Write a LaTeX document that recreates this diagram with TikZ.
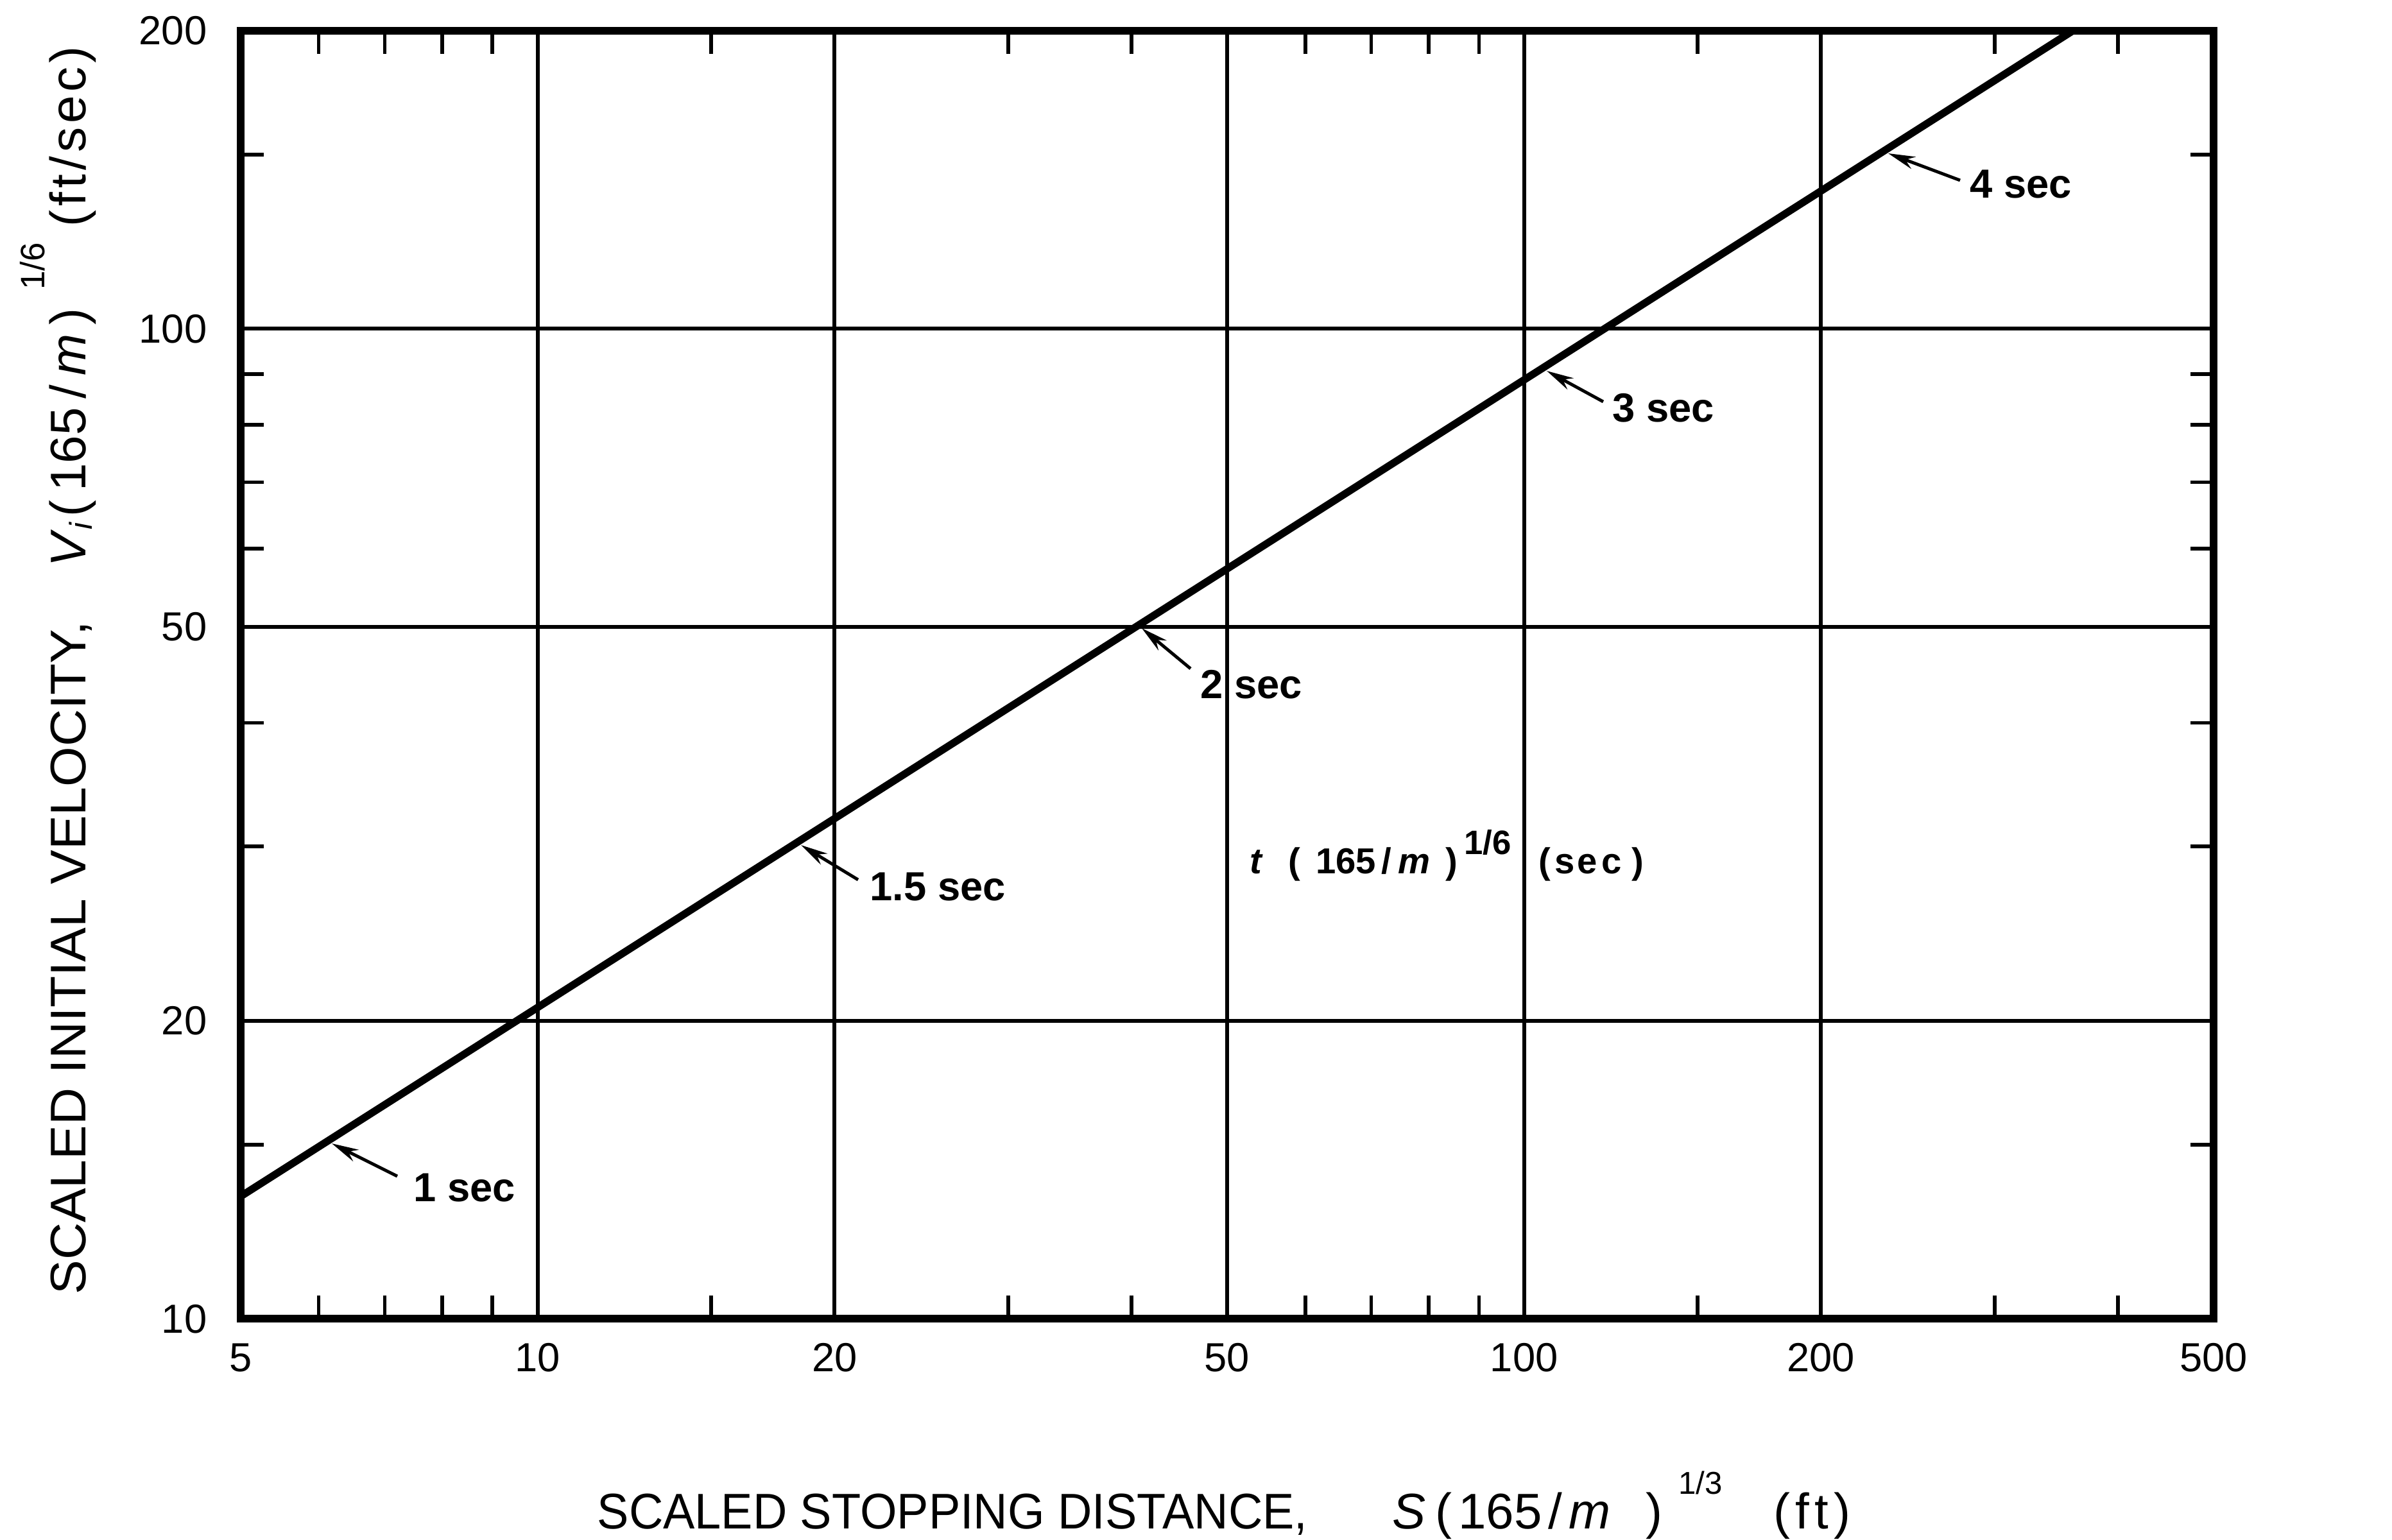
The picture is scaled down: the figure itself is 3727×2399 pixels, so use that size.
\documentclass[tikz,border=0pt]{standalone}
\usepackage{fontspec}
\setmainfont{Liberation Sans}
\usepackage{graphicx}
\usetikzlibrary{arrows.meta}
\begin{document}
\begin{tikzpicture}[x=0.01cm,y=-0.01cm,
  plotframe/.style={line width=3.2pt,line join=miter},
  gridln/.style={line width=1.7pt},
  tickln/.style={line width=1.6pt},
  dataln/.style={line width=3.3pt},
  ptr/.style={line width=1.4pt,-{Stealth[length=0.42cm,width=0.2cm]}},
  numlbl/.style={font=\fontsize{18}{21}\selectfont,inner sep=0pt},
  seclbl/.style={font=\fontsize{18}{21}\selectfont\bfseries,inner sep=0pt,anchor=base west},
  axlbl/.style={font=\fontsize{22.2}{26}\selectfont,inner sep=0pt,anchor=base west},
  midlbl/.style={font=\fontsize{16}{19}\selectfont\bfseries,inner sep=0pt,anchor=base west}]
\useasboundingbox (0,0) rectangle (3727,2399);
% grid lines
\foreach \s in {10,20,50,100,200}
  \draw[gridln] ({375+1537*log10(\s/5)},48) -- ({375+1537*log10(\s/5)},2055);
\foreach \v in {20,50,100}
  \draw[gridln] (375,{48+1543*log10(200/\v)}) -- (3449,{48+1543*log10(200/\v)});
% minor ticks
\foreach \s in {6,7,8,9,15,30,40,60,70,80,90,150,300,400}{
  \draw[tickln] ({375+1537*log10(\s/5)},2055) -- ++(0,-36);
  \draw[tickln] ({375+1537*log10(\s/5)},48) -- ++(0,36);}
\foreach \v in {15,30,40,60,70,80,90,150}{
  \draw[tickln] (375,{48+1543*log10(200/\v)}) -- ++(36,0);
  \draw[tickln] (3449,{48+1543*log10(200/\v)}) -- ++(-36,0);}
\draw[plotframe] (375,48) rectangle (3449,2055);
% data line
\begin{scope}
  \clip (375,48) rectangle (3449,2055);
  \coordinate (dA) at (360,1874);
  \coordinate (dB) at (3250,35);
  \draw[dataln] (dA) -- (dB);
\end{scope}
% tick labels
\foreach \s in {5,10,20,50,100,200,500}
  \node[numlbl] (xl\s) at ({375+1537*log10(\s/5)},2116) {\s};
\foreach \v in {10,20,50,100,200}
  \node[numlbl,anchor=east] (yl\v) at (323,{48+1543*log10(200/\v)}) {\v};
% time markers
\node[seclbl] (s1) at (644,1872) {1 sec};
\coordinate (a1) at (619,1833); \coordinate (b1) at (517,1782);
\draw[ptr] (a1) -- (b1);
\node[seclbl] (s15) at (1355,1403) {1.5 sec};
\coordinate (a15) at (1337,1371); \coordinate (b15) at (1248,1317);
\draw[ptr] (a15) -- (b15);
\node[seclbl] (s2) at (1870,1088) {2 sec};
\coordinate (a2) at (1855,1042); \coordinate (b2) at (1779,979);
\draw[ptr] (a2) -- (b2);
\node[seclbl] (s3) at (2512,657) {3 sec};
\coordinate (a3) at (2498,626); \coordinate (b3) at (2410,578);
\draw[ptr] (a3) -- (b3);
\node[seclbl] (s4) at (3069,308) {4 sec};
\coordinate (a4) at (3054,281); \coordinate (b4) at (2942,239);
\draw[ptr] (a4) -- (b4);
% middle label
\node[midlbl] (tlab) at (1947,1361) {\textit{t}\hspace{0.39cm}(\hspace{0.24cm}165\hspace{0.08cm}/\hspace{0.11cm}\textit{m}\hspace{0.24cm})\hspace{0.1cm}\raisebox{0.3cm}{\fontsize{15}{18}\selectfont 1/6}\hspace{0.43cm}(\hspace{0.06cm}s\hspace{0.04cm}e\hspace{0.06cm}c\hspace{0.16cm})};
% axis titles
\node[axlbl] (xlab) at (930,2382) {\scalebox{0.947}[1]{SCALED STOPPING DISTANCE,}\hspace{1.32cm}\textit{S}\hspace{0.15cm}(\hspace{0.1cm}165\hspace{0.1cm}/\hspace{0.1cm}\textit{m}\hspace{0.55cm})\hspace{0.25cm}\raisebox{0.54cm}{\fontsize{14}{17}\selectfont 1/3}\hspace{0.8cm}(\hspace{0.08cm}f\hspace{0.08cm}t\hspace{0.08cm})};
\node[axlbl,rotate=90] (ylab) at (133,2018) {\scalebox{1.03}[1]{SCALED INITIAL VELOCITY,}\hspace{0.85cm}\textit{V}\raisebox{-0.1cm}{\fontsize{14}{17}\selectfont\textit{i}}\hspace{0.08cm}(\hspace{0.14cm}165\hspace{0.14cm}/\hspace{0.14cm}\textit{m}\hspace{0.14cm})\hspace{0.29cm}\raisebox{0.63cm}{\fontsize{15}{18}\selectfont 1/6}\hspace{0.25cm}(\hspace{0.06cm}f\hspace{0.06cm}t\hspace{0.06cm}/\hspace{0.06cm}s\hspace{0.06cm}e\hspace{0.06cm}c\hspace{0.06cm})};
\end{tikzpicture}
\end{document}
